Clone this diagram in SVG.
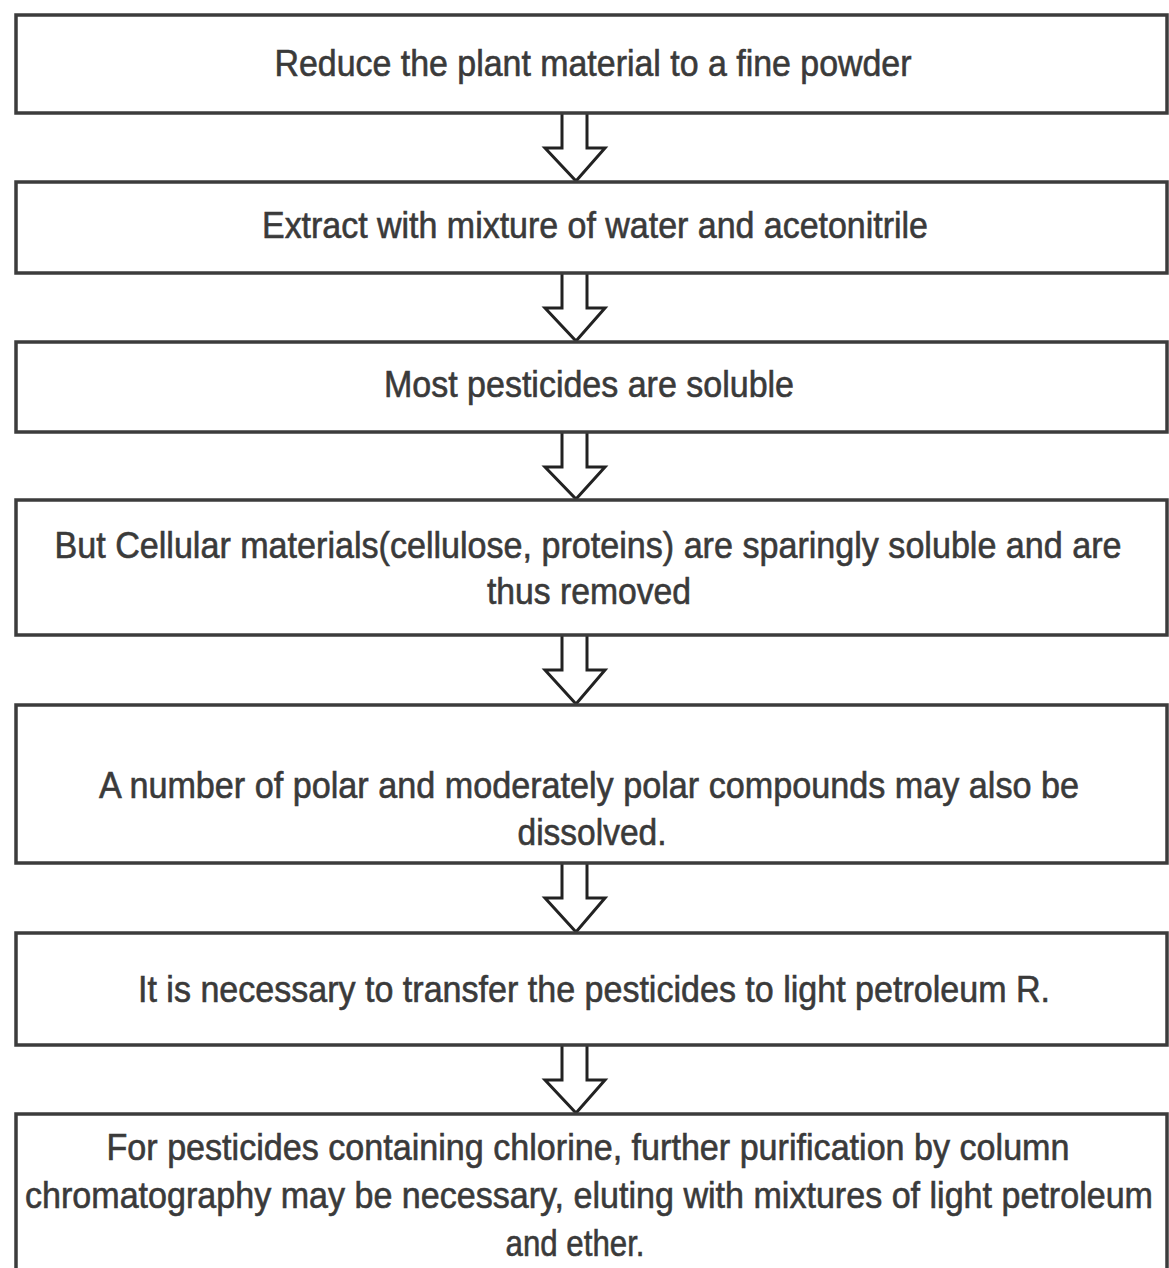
<svg xmlns="http://www.w3.org/2000/svg" width="1169" height="1268" viewBox="0 0 1169 1268">
<style>
.box{fill:#fff;stroke:#3c3c3c;stroke-width:3.5}
.t{font-family:"Liberation Sans",Arial,sans-serif;font-size:36px;fill:#3a3a3a;stroke:#3a3a3a;stroke-width:0.6;text-anchor:middle}
.arr{fill:#fff;stroke:#222;stroke-width:3;stroke-linejoin:miter}
</style>
<rect width="1169" height="1268" fill="#fff"/>
<g id="connectors">
<path class="arr" d="M562,113 L562,148 L545,148 L576,181 L605,148 L587,148 L587,113"/>
<path class="arr" d="M562,273 L562,308 L545,308 L576,341 L605,308 L587,308 L587,273"/>
<path class="arr" d="M562,432 L562,467 L545,467 L576,499 L605,467 L587,467 L587,432"/>
<path class="arr" d="M562,635 L562,670 L545,670 L576,704 L605,670 L587,670 L587,635"/>
<path class="arr" d="M562,863 L562,898 L545,898 L576,932 L605,898 L587,898 L587,863"/>
<path class="arr" d="M562,1045 L562,1080 L545,1080 L576,1113 L605,1080 L587,1080 L587,1045"/>
</g>
<g id="n1">
<rect class="box" x="16" y="15" width="1151" height="98"/>
<text class="t" x="593" y="76" textLength="637" lengthAdjust="spacingAndGlyphs">Reduce the plant material to a fine powder</text>
</g>
<g id="n2">
<rect class="box" x="16" y="182" width="1151" height="91"/>
<text class="t" x="595" y="238" textLength="666" lengthAdjust="spacingAndGlyphs">Extract with mixture of water and acetonitrile</text>
</g>
<g id="n3">
<rect class="box" x="16" y="342" width="1151" height="90"/>
<text class="t" x="589" y="397" textLength="410" lengthAdjust="spacingAndGlyphs">Most pesticides are soluble</text>
</g>
<g id="n4">
<rect class="box" x="16" y="500" width="1151" height="135"/>
<text class="t" x="588" y="558" textLength="1067" lengthAdjust="spacingAndGlyphs">But Cellular materials(cellulose, proteins) are sparingly soluble and are</text>
<text class="t" x="589" y="604" textLength="204" lengthAdjust="spacingAndGlyphs">thus removed</text>
</g>
<g id="n5">
<rect class="box" x="16" y="705" width="1151" height="158"/>
<text class="t" x="589" y="798" textLength="980" lengthAdjust="spacingAndGlyphs">A number of polar and moderately polar compounds may also be</text>
<text class="t" x="592" y="845" textLength="149" lengthAdjust="spacingAndGlyphs">dissolved.</text>
</g>
<g id="n6">
<rect class="box" x="16" y="933" width="1151" height="112"/>
<text class="t" x="594" y="1002" textLength="912" lengthAdjust="spacingAndGlyphs">It is necessary to transfer the pesticides to light petroleum R.</text>
</g>
<g id="n7">
<rect class="box" x="16" y="1114" width="1151" height="160"/>
<text class="t" x="588" y="1160" textLength="963" lengthAdjust="spacingAndGlyphs">For pesticides containing chlorine, further purification by column</text>
<text class="t" x="589" y="1208" textLength="1128" lengthAdjust="spacingAndGlyphs">chromatography may be necessary, eluting with mixtures of light petroleum</text>
<text class="t" x="575" y="1256" textLength="139" lengthAdjust="spacingAndGlyphs">and ether.</text>
</g>
</svg>
